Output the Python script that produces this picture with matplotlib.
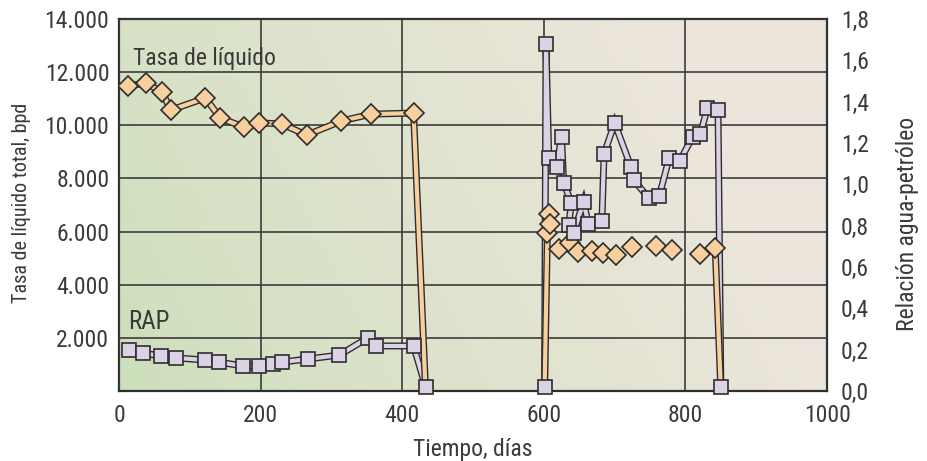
import numpy as np
import matplotlib
matplotlib.use('Agg')
import matplotlib.pyplot as plt
import matplotlib.patheffects as pe
from matplotlib import font_manager
from matplotlib.ticker import FuncFormatter

# pick a narrow font if there is one
avail = set(f.name for f in font_manager.fontManager.ttflist)
fam = [f for f in ['Liberation Sans Narrow', 'Roboto Condensed', 'DejaVu Sans Condensed', 'Roboto'] if f in avail]
plt.rcParams['font.family'] = fam + ['DejaVu Sans']

# liquid rate (bpd), left axis
liq_days = [13, 38, 61, 73, 122, 143, 177, 198, 230, 265, 314, 356, 416, 433,
            601, 605, 607, 608, 622, 637, 648, 668, 683, 702, 724, 758, 781, 820, 842, 850]
liq_vals = [11480, 11590, 11250, 10570, 11030, 10270, 9930, 10090, 10050, 9630, 10160, 10420, 10460, 0,
            0, 5950, 6660, 6290, 5340, 5570, 5230, 5270, 5190, 5120, 5420, 5460, 5310, 5160, 5380, 0]
liq_segments = [(0, 14), (14, 16), (28, 30)]

# water-oil ratio, right axis
rap_days = [14, 34, 59, 81, 122, 141, 175, 197, 218, 230, 267, 311, 351, 363, 416, 433,
            601, 603, 607, 618, 625, 628, 639, 635, 642, 656, 663, 682, 685, 700, 723, 727,
            748, 763, 777, 792, 810, 821, 831, 846, 850]
rap_vals = [0.198, 0.184, 0.169, 0.160, 0.150, 0.140, 0.121, 0.121, 0.131, 0.140, 0.155, 0.174, 0.256, 0.218, 0.218, 0.02,
            0.02, 1.68, 1.127, 1.084, 1.229, 1.006, 0.910, 0.803, 0.765, 0.915, 0.808, 0.823, 1.147, 1.297, 1.084, 1.021,
            0.934, 0.944, 1.127, 1.113, 1.229, 1.244, 1.369, 1.360, 0.02]
rap_segments = [(0, 16), (16, 41)]

left_ticks = [2000, 4000, 6000, 8000, 10000, 12000, 14000]
right_ticks = [0.0, 0.2, 0.4, 0.6, 0.8, 1.0, 1.2, 1.4, 1.6, 1.8]
x_ticks = [0, 200, 400, 600, 800, 1000]

txt = '#3a3a3a'
edge = '#2e2e2e'
orange = '#f8cf9e'
lav = '#dcd2e6'

fig = plt.figure(figsize=(9.27, 4.61), dpi=100)
ax = fig.add_axes([0.1284, 0.1518, 0.7638, 0.807])

# background gradient, green at lower left to beige at right
gx, gy = np.meshgrid(np.linspace(0, 1, 300), np.linspace(0, 1, 150))
t = np.clip(0.95 * gx + 0.25 * gy, 0, 1) ** 0.8
c0 = np.array([0.80, 0.875, 0.73])
c1 = np.array([0.93, 0.90, 0.865])
img = c0[None, None, :] * (1 - t[..., None]) + c1[None, None, :] * t[..., None]
ax.imshow(img, extent=[0, 1, 0, 1], transform=ax.transAxes, origin='lower',
          aspect='auto', zorder=0, interpolation='bilinear')

ax.set_xlim(0, 1000)
ax.set_ylim(0, 14000)
ax.set_xticks(x_ticks)
ax.set_yticks(left_ticks)
ax.yaxis.set_major_formatter(FuncFormatter(lambda v, p: '{:,.0f}'.format(v).replace(',', '.')))
ax.grid(True, color='#3c3c3c', linewidth=1.2, zorder=1)
ax.set_axisbelow(False)
ax.tick_params(length=0, labelsize=17, labelcolor=txt, pad=7)
ax.tick_params(axis='x', pad=9)
ax.set_xlabel('Tiempo, días', fontsize=17, color=txt, labelpad=8)
ax.set_ylabel('Tasa de líquido total, bpd', fontsize=14.5, color=txt)
ax.yaxis.set_label_coords(-0.124, 0.505)
for s in ax.spines.values():
    s.set_color(edge)
    s.set_linewidth(1.6)

# right axis: RAP line
ax2 = ax.twinx()
ax2.set_ylim(0, 1.8)
ax2.set_yticks(right_ticks)
ax2.yaxis.set_major_formatter(FuncFormatter(lambda v, p: '{:.1f}'.format(v).replace('.', ',')))
ax2.tick_params(length=0, labelsize=17, labelcolor=txt, pad=10)
ax2.set_ylabel('Relación agua-petróleo', fontsize=17, color=txt)
ax2.yaxis.set_label_coords(1.097, 0.449)
for s in ax2.spines.values():
    s.set_visible(False)
stroke = [pe.Stroke(linewidth=5, foreground=edge), pe.Normal()]
for a, b in rap_segments:
    ax2.plot(rap_days[a:b], rap_vals[a:b], color=lav, linewidth=3, path_effects=stroke,
             solid_joinstyle='miter', zorder=2)

# liquid rate on a hidden twin above the RAP line
ax3 = ax.twinx()
ax3.set_ylim(0, 14000)
ax3.axis('off')
for a, b in liq_segments:
    ax3.plot(liq_days[a:b], liq_vals[a:b], color=orange, linewidth=3, path_effects=stroke, zorder=2)
mk_d = [d for d, v in zip(liq_days, liq_vals) if v > 0]
mk_v = [v for v in liq_vals if v > 0]
ax3.plot(mk_d, mk_v, linestyle='none', marker='D', markersize=10, markerfacecolor=orange,
         markeredgecolor=edge, markeredgewidth=1.2, zorder=3)

# RAP squares on top
ax4 = ax.twinx()
ax4.set_ylim(0, 1.8)
ax4.axis('off')
ax4.plot(rap_days, rap_vals, linestyle='none', marker='s', markersize=9.5, markerfacecolor=lav,
         markeredgecolor=edge, markeredgewidth=1.2, zorder=3, clip_on=False)
for a_ in (ax2, ax3, ax4):
    a_.set_xlim(0, 1000)

ax.text(0.02, 0.895, 'Tasa de líquido', transform=ax.transAxes, fontsize=17, color=txt,
        va='center', ha='left', zorder=5)
ax.text(0.013, 0.185, 'RAP', transform=ax.transAxes, fontsize=18, color=txt,
        va='center', ha='left', zorder=5)

fig.savefig('out.png', dpi=100)
